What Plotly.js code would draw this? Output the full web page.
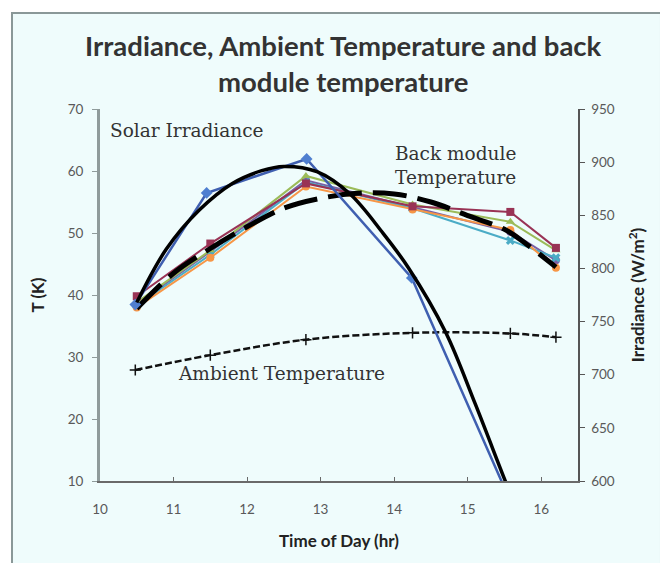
<!DOCTYPE html>
<html>
<head>
<meta charset="utf-8">
<script src="https://cdn.plot.ly/plotly-3.0.1.min.js"></script>
<style>html,body{margin:0;padding:0;background:#fff;}#chart{width:660px;height:563px;}</style>
</head>
<body>
<div id="chart"></div>
<script>
// ---- data ----
const timeIrr = [10.48, 11.45, 12.81, 14.24, 15.58];
const irradiance = [766, 871, 903, 791, 581];

const timeIrrFit = [10.5, 10.9, 11.35, 11.8, 12.2, 12.5, 12.95, 13.4, 13.85, 14.2, 14.7, 15.1, 15.5, 15.6];
const irradianceFit = [768, 818, 855, 880, 892, 896, 891, 870, 833, 800, 740, 673, 602, 585];

const timeBack = [10.5, 11.5, 12.8, 14.25, 15.58, 16.2];
const backMaroon = [39.8, 48.3, 58.0, 54.3, 53.4, 47.6];
const backOrange = [38.0, 46.0, 57.5, 53.8, 50.5, 44.4];
const backGreen = [38.8, 47.2, 59.2, 54.6, 51.8, 47.2];
const backAqua = [38.3, 46.5, 58.2, 54.0, 48.8, 46.0];
const backPurple = [38.5, 47.0, 58.5, 54.2, 50.2, 45.6];

const timeBackFit = [10.5, 11.0, 11.5, 12.0, 12.5, 13.0, 13.5, 14.0, 14.5, 15.0, 15.5, 15.8, 16.2];
const backFit = [37.8, 43.5, 47.5, 51.0, 54.0, 55.6, 56.4, 56.3, 55.0, 52.8, 50.6, 48.2, 44.5];

const timeAmb = [10.48, 11.5, 12.8, 14.25, 15.58, 16.2];
const ambient = [27.9, 30.3, 32.8, 33.9, 33.8, 33.2];

const xTicks = [10, 11, 12, 13, 14, 15, 16];
const yTicks = [10, 20, 30, 40, 50, 60, 70];
const y2Ticks = [600, 650, 700, 750, 800, 850, 900, 950];

// ---- traces ----
function backTrace(y, color, symbol) {
  return {x: timeBack, y: y, type: 'scatter', mode: 'lines+markers',
    line: {color: color, width: 2}, marker: {color: color, symbol: symbol, size: 8},
    hoverinfo: 'skip', showlegend: false};
}

const traces = [
  backTrace(backPurple, '#7a5fa5', 'circle'),
  backTrace(backAqua, '#4bacc6', 'x'),
  backTrace(backGreen, '#9bbb59', 'triangle-up'),
  backTrace(backOrange, '#f79646', 'circle'),
  backTrace(backMaroon, '#993355', 'square'),
  {x: timeBackFit, y: backFit, type: 'scatter', mode: 'lines', line: {color: '#000', width: 5, dash: '34px,11px', shape: 'spline'}, showlegend: false},
  {x: timeAmb, y: ambient, type: 'scatter', mode: 'lines+markers', line: {color: '#111', width: 2.5, dash: '7px,3px', shape: 'spline'},
    marker: {symbol: 'cross-thin-open', size: 8, color: '#111', line: {width: 1.5, color: '#111'}}, showlegend: false},
  {x: timeIrr, y: irradiance, yaxis: 'y2', type: 'scatter', mode: 'lines+markers', line: {color: '#3f5fb0', width: 2.5},
    marker: {symbol: 'diamond', size: 9, color: '#4f7fd0'}, showlegend: false},
  {x: timeIrrFit, y: irradianceFit, yaxis: 'y2', type: 'scatter', mode: 'lines', line: {color: '#000', width: 3.5, shape: 'spline'}, showlegend: false}
];

const tickFont = {family: 'Lato, "Open Sans", sans-serif', size: 13.5, color: '#595959'};
const titleFont = {family: 'Lato, "Open Sans", sans-serif', size: 17, color: '#222', weight: 'bold'};
const serifFont = {family: '"DejaVu Serif", "Liberation Serif", serif', size: 18.5, color: '#333'};

const layout = {
  width: 660, height: 563,
  margin: {l: 100, r: 82, t: 109, b: 82},
  paper_bgcolor: '#ffffff',
  plot_bgcolor: 'rgba(0,0,0,0)',
  showlegend: false,
  title: {
    text: '<b>Irradiance, Ambient Temperature and back<br>module temperature</b>',
    font: {family: 'Lato, "Open Sans", sans-serif', size: 27.5, color: '#333'},
    x: 0.52, xref: 'container', xanchor: 'center',
    y: 0.9, yref: 'container', yanchor: 'top'
  },
  xaxis: {
    range: [10, 16.5], tickvals: xTicks, ticktext: xTicks.map(String),
    showgrid: false, zeroline: false, showline: true, linecolor: '#6a6a6a', linewidth: 1.5,
    ticks: 'inside', ticklen: 4, tickcolor: '#6a6a6a', tickfont: tickFont, ticklabelstandoff: 15,
    title: {text: '<b>Time of Day (hr)</b>', font: titleFont, standoff: 19}
  },
  yaxis: {
    range: [10, 70], tickvals: yTicks, ticktext: yTicks.map(String),
    showgrid: false, zeroline: false, showline: true, linecolor: '#8f9b9b', linewidth: 3,
    ticks: 'outside', ticklen: 5, tickcolor: '#8f9b9b', tickfont: tickFont, ticklabelstandoff: 6,
    title: {text: '<b>T (K)</b>', font: titleFont, standoff: 19}
  },
  yaxis2: {
    range: [600, 950], tickvals: y2Ticks, ticktext: y2Ticks.map(String),
    overlaying: 'y', side: 'right',
    showgrid: false, zeroline: false, showline: true, linecolor: '#555', linewidth: 1.5,
    ticks: 'outside', ticklen: 5, tickcolor: '#555', tickfont: tickFont, ticklabelstandoff: 4,
    title: {text: '<b>Irradiance (W/m<sup>2</sup>)</b>', font: titleFont, standoff: 18}
  },
  shapes: [{
    type: 'rect', xref: 'paper', yref: 'paper', layer: 'below',
    x0: -0.1841, x1: 1.1736, y0: -0.2231, y1: 1.2581,
    fillcolor: '#effcfc', line: {color: '#8a9898', width: 2}
  }],
  annotations: [
    {text: 'Solar Irradiance', xref: 'paper', yref: 'paper', x: (108 - 100) / 478, y: (481 - 131) / 372, xanchor: 'left', yanchor: 'middle', showarrow: false, font: serifFont},
    {text: 'Back module<br>Temperature', xref: 'paper', yref: 'paper', x: (455 - 100) / 478, y: (481 - 165) / 372, xanchor: 'center', yanchor: 'middle', showarrow: false, font: serifFont},
    {text: 'Ambient Temperature', xref: 'paper', yref: 'paper', x: (176 - 100) / 478, y: (481 - 373) / 372, xanchor: 'left', yanchor: 'middle', showarrow: false, font: serifFont}
  ]
};

Plotly.newPlot('chart', traces, layout, {displayModeBar: false, staticPlot: true});
</script>
</body>
</html>
